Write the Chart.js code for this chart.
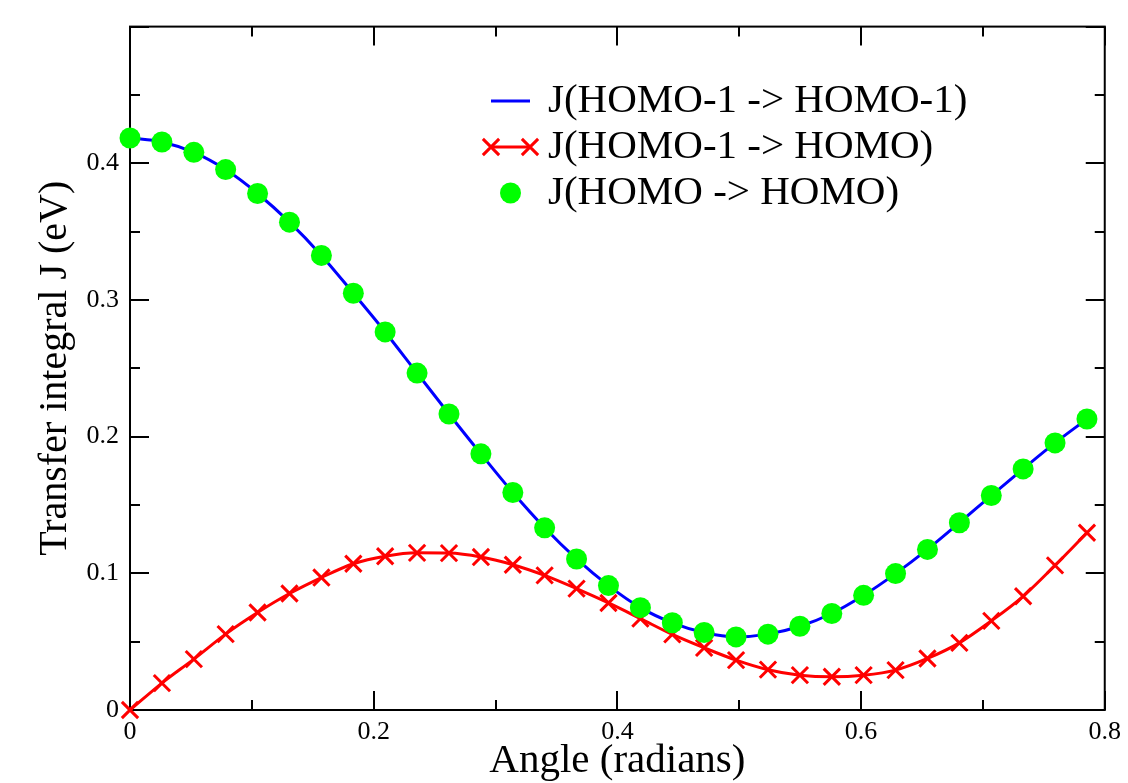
<!DOCTYPE html>
<html>
<head>
<meta charset="utf-8">
<title>Transfer integral vs angle</title>
<script src="https://cdn.jsdelivr.net/npm/chart.js@4.4.1/dist/chart.umd.min.js"></script>
<style>
    html, body { margin: 0; padding: 0; background: #fff; overflow: hidden; }
    #wrap { width: 1128px; height: 800px; }
</style>
</head>
<body>
<div id="wrap"><canvas id="chart" width="1128" height="800"></canvas></div>
<script>
// --- Data ---
const angles = [0, 0.0262, 0.0524, 0.0785, 0.1047, 0.1309, 0.1571, 0.1833, 0.2094, 0.2356,
    0.2618, 0.2880, 0.3142, 0.3403, 0.3665, 0.3927, 0.4189, 0.4451, 0.4712, 0.4974,
    0.5236, 0.5498, 0.5760, 0.6021, 0.6283, 0.6545, 0.6807, 0.7069, 0.7330, 0.7592, 0.7854];

const homo1Homo1 = [0.4185, 0.4156, 0.4080, 0.3954, 0.3779, 0.3569, 0.3326, 0.3049, 0.2766, 0.2465,
    0.2166, 0.1874, 0.1591, 0.1333, 0.1105, 0.0910, 0.0749, 0.0638, 0.0567, 0.0535,
    0.0555, 0.0613, 0.0706, 0.0839, 0.0998, 0.1175, 0.1370, 0.1569, 0.1764, 0.1954, 0.2129];

const homo1Homo = [0, 0.0197, 0.0372, 0.0555, 0.0713, 0.0852, 0.0969, 0.1070, 0.1125, 0.1150,
    0.1148, 0.1119, 0.1063, 0.0985, 0.0888, 0.0783, 0.0669, 0.0553, 0.0455, 0.0365,
    0.0295, 0.0255, 0.0243, 0.0255, 0.0292, 0.0377, 0.0491, 0.0652, 0.0832, 0.1058, 0.1297];

const homoHomo = [0.4185, 0.4156, 0.4080, 0.3954, 0.3779, 0.3569, 0.3326, 0.3049, 0.2766, 0.2465,
    0.2166, 0.1874, 0.1591, 0.1333, 0.1105, 0.0910, 0.0749, 0.0638, 0.0567, 0.0535,
    0.0555, 0.0613, 0.0706, 0.0839, 0.0998, 0.1175, 0.1370, 0.1569, 0.1764, 0.1954, 0.2129];

const xMajorTicks = [0, 0.2, 0.4, 0.6, 0.8];
const xMinorTicks = [0.1, 0.3, 0.5, 0.7];
const yMajorTicks = [0, 0.1, 0.2, 0.3, 0.4, 0.5];
const yMinorTicks = [0.05, 0.15, 0.25, 0.35, 0.45];
const yLabelled = [0, 0.1, 0.2, 0.3, 0.4];

const FONT = '"Liberation Serif", "Times New Roman", serif';

function toPoints(xs, ys) {
    return xs.map((x, i) => ({ x: x, y: ys[i] }));
}

function fmt(v) {
    return v === 0 ? '0' : Number(v).toFixed(1);
}

// --- Frame with inward ticks on all four sides (xmgrace look) ---
const framePlugin = {
    id: 'graceFrame',
    beforeDatasetsDraw(chart) {
        const { ctx, chartArea: a, scales } = chart;
        ctx.save();
        ctx.strokeStyle = '#000';
        ctx.lineWidth = 2;
        ctx.strokeRect(a.left, a.top, a.right - a.left, a.bottom - a.top);

        const tick = (vals, len) => {
            vals.forEach(v => {
                const px = Math.round(scales.x.getPixelForValue(v));
                ctx.moveTo(px, a.bottom); ctx.lineTo(px, a.bottom - len);
                ctx.moveTo(px, a.top); ctx.lineTo(px, a.top + len);
            });
        };
        const tickY = (vals, len) => {
            vals.forEach(v => {
                const py = Math.round(scales.y.getPixelForValue(v));
                ctx.moveTo(a.left, py); ctx.lineTo(a.left + len, py);
                ctx.moveTo(a.right, py); ctx.lineTo(a.right - len, py);
            });
        };
        ctx.beginPath();
        tick(xMajorTicks, 19);
        tick(xMinorTicks, 10);
        tickY(yMajorTicks, 19);
        tickY(yMinorTicks, 10);
        ctx.stroke();
        ctx.restore();
    }
};

// --- Legend drawn inside the plot, like the original ---
const legendPlugin = {
    id: 'graceLegend',
    afterDatasetsDraw(chart) {
        const ctx = chart.ctx;
        const x0 = 491, x1 = 530, textX = 548;
        const rows = [101, 147, 193];
        ctx.save();
        chart.data.datasets.forEach((ds, i) => {
            const y = rows[i];
            if (ds.showLine !== false) {
                ctx.strokeStyle = ds.borderColor;
                ctx.lineWidth = ds.borderWidth;
                ctx.beginPath();
                ctx.moveTo(x0, y); ctx.lineTo(x1, y);
                ctx.stroke();
            }
            if (ds.pointRadius > 0 && ds.pointStyle === 'crossRot') {
                const r = ds.pointRadius * Math.SQRT1_2;
                ctx.strokeStyle = ds.pointBorderColor;
                ctx.lineWidth = ds.pointBorderWidth;
                [x0, x1].forEach(cx => {
                    ctx.beginPath();
                    ctx.moveTo(cx - r, y - r); ctx.lineTo(cx + r, y + r);
                    ctx.moveTo(cx - r, y + r); ctx.lineTo(cx + r, y - r);
                    ctx.stroke();
                });
            } else if (ds.pointRadius > 0) {
                ctx.fillStyle = ds.pointBackgroundColor;
                ctx.beginPath();
                ctx.arc((x0 + x1) / 2, y, ds.pointRadius, 0, Math.PI * 2);
                ctx.fill();
            }
            ctx.fillStyle = '#000';
            ctx.font = '41px ' + FONT;
            ctx.textBaseline = 'middle';
            ctx.textAlign = 'left';
            ctx.fillText(ds.label, textX, y);
        });
        ctx.restore();
    }
};

const ctx = document.getElementById('chart').getContext('2d');
new Chart(ctx, {
    type: 'line',
    data: {
        datasets: [
            {
                label: 'J(HOMO-1 -> HOMO-1)',
                data: toPoints(angles, homo1Homo1),
                borderColor: '#0000ff',
                borderWidth: 3,
                pointRadius: 0,
                cubicInterpolationMode: 'monotone',
                clip: false,
                order: 2
            },
            {
                label: 'J(HOMO-1 -> HOMO)',
                data: toPoints(angles, homo1Homo),
                borderColor: '#ff0000',
                borderWidth: 3,
                pointStyle: 'crossRot',
                pointRadius: 11.5,
                pointBorderColor: '#ff0000',
                pointBorderWidth: 3,
                cubicInterpolationMode: 'monotone',
                clip: false,
                order: 1
            },
            {
                label: 'J(HOMO -> HOMO)',
                data: toPoints(angles, homoHomo),
                showLine: false,
                pointStyle: 'circle',
                pointRadius: 10.5,
                pointBorderWidth: 0,
                pointBackgroundColor: '#00ff00',
                pointBorderColor: '#00ff00',
                clip: false,
                order: 0
            }
        ]
    },
    options: {
        responsive: false,
        animation: false,
        devicePixelRatio: 1,
        layout: { padding: { top: 25, right: 18, left: 0, bottom: 0 } },
        plugins: {
            legend: { display: false },
            tooltip: { enabled: false }
        },
        scales: {
            x: {
                type: 'linear',
                min: 0,
                max: 0.8,
                grid: { display: false, drawTicks: false },
                border: { display: false },
                afterFit: scale => { scale.height = 90; },
                ticks: {
                    stepSize: 0.2,
                    padding: 7,
                    color: '#000',
                    font: { family: FONT, size: 26 },
                    maxRotation: 0,
                    callback: v => (xMajorTicks.some(t => Math.abs(t - v) < 1e-6) ? fmt(v) : '')
                },
                title: {
                    display: true,
                    text: 'Angle (radians)',
                    color: '#000',
                    font: { family: FONT, size: 41 },
                    padding: { top: 0, bottom: 14 }
                }
            },
            y: {
                type: 'linear',
                min: 0,
                max: 0.5,
                grid: { display: false, drawTicks: false },
                border: { display: false },
                afterFit: scale => { scale.width = 130; },
                ticks: {
                    stepSize: 0.1,
                    padding: 11,
                    color: '#000',
                    font: { family: FONT, size: 26 },
                    callback: v => (yLabelled.some(t => Math.abs(t - v) < 1e-6) ? fmt(v) : '')
                },
                title: {
                    display: true,
                    text: 'Transfer integral J (eV)',
                    color: '#000',
                    font: { family: FONT, size: 40 },
                    padding: { top: 31, bottom: 0 }
                }
            }
        }
    },
    plugins: [framePlugin, legendPlugin]
});
</script>
</body>
</html>
